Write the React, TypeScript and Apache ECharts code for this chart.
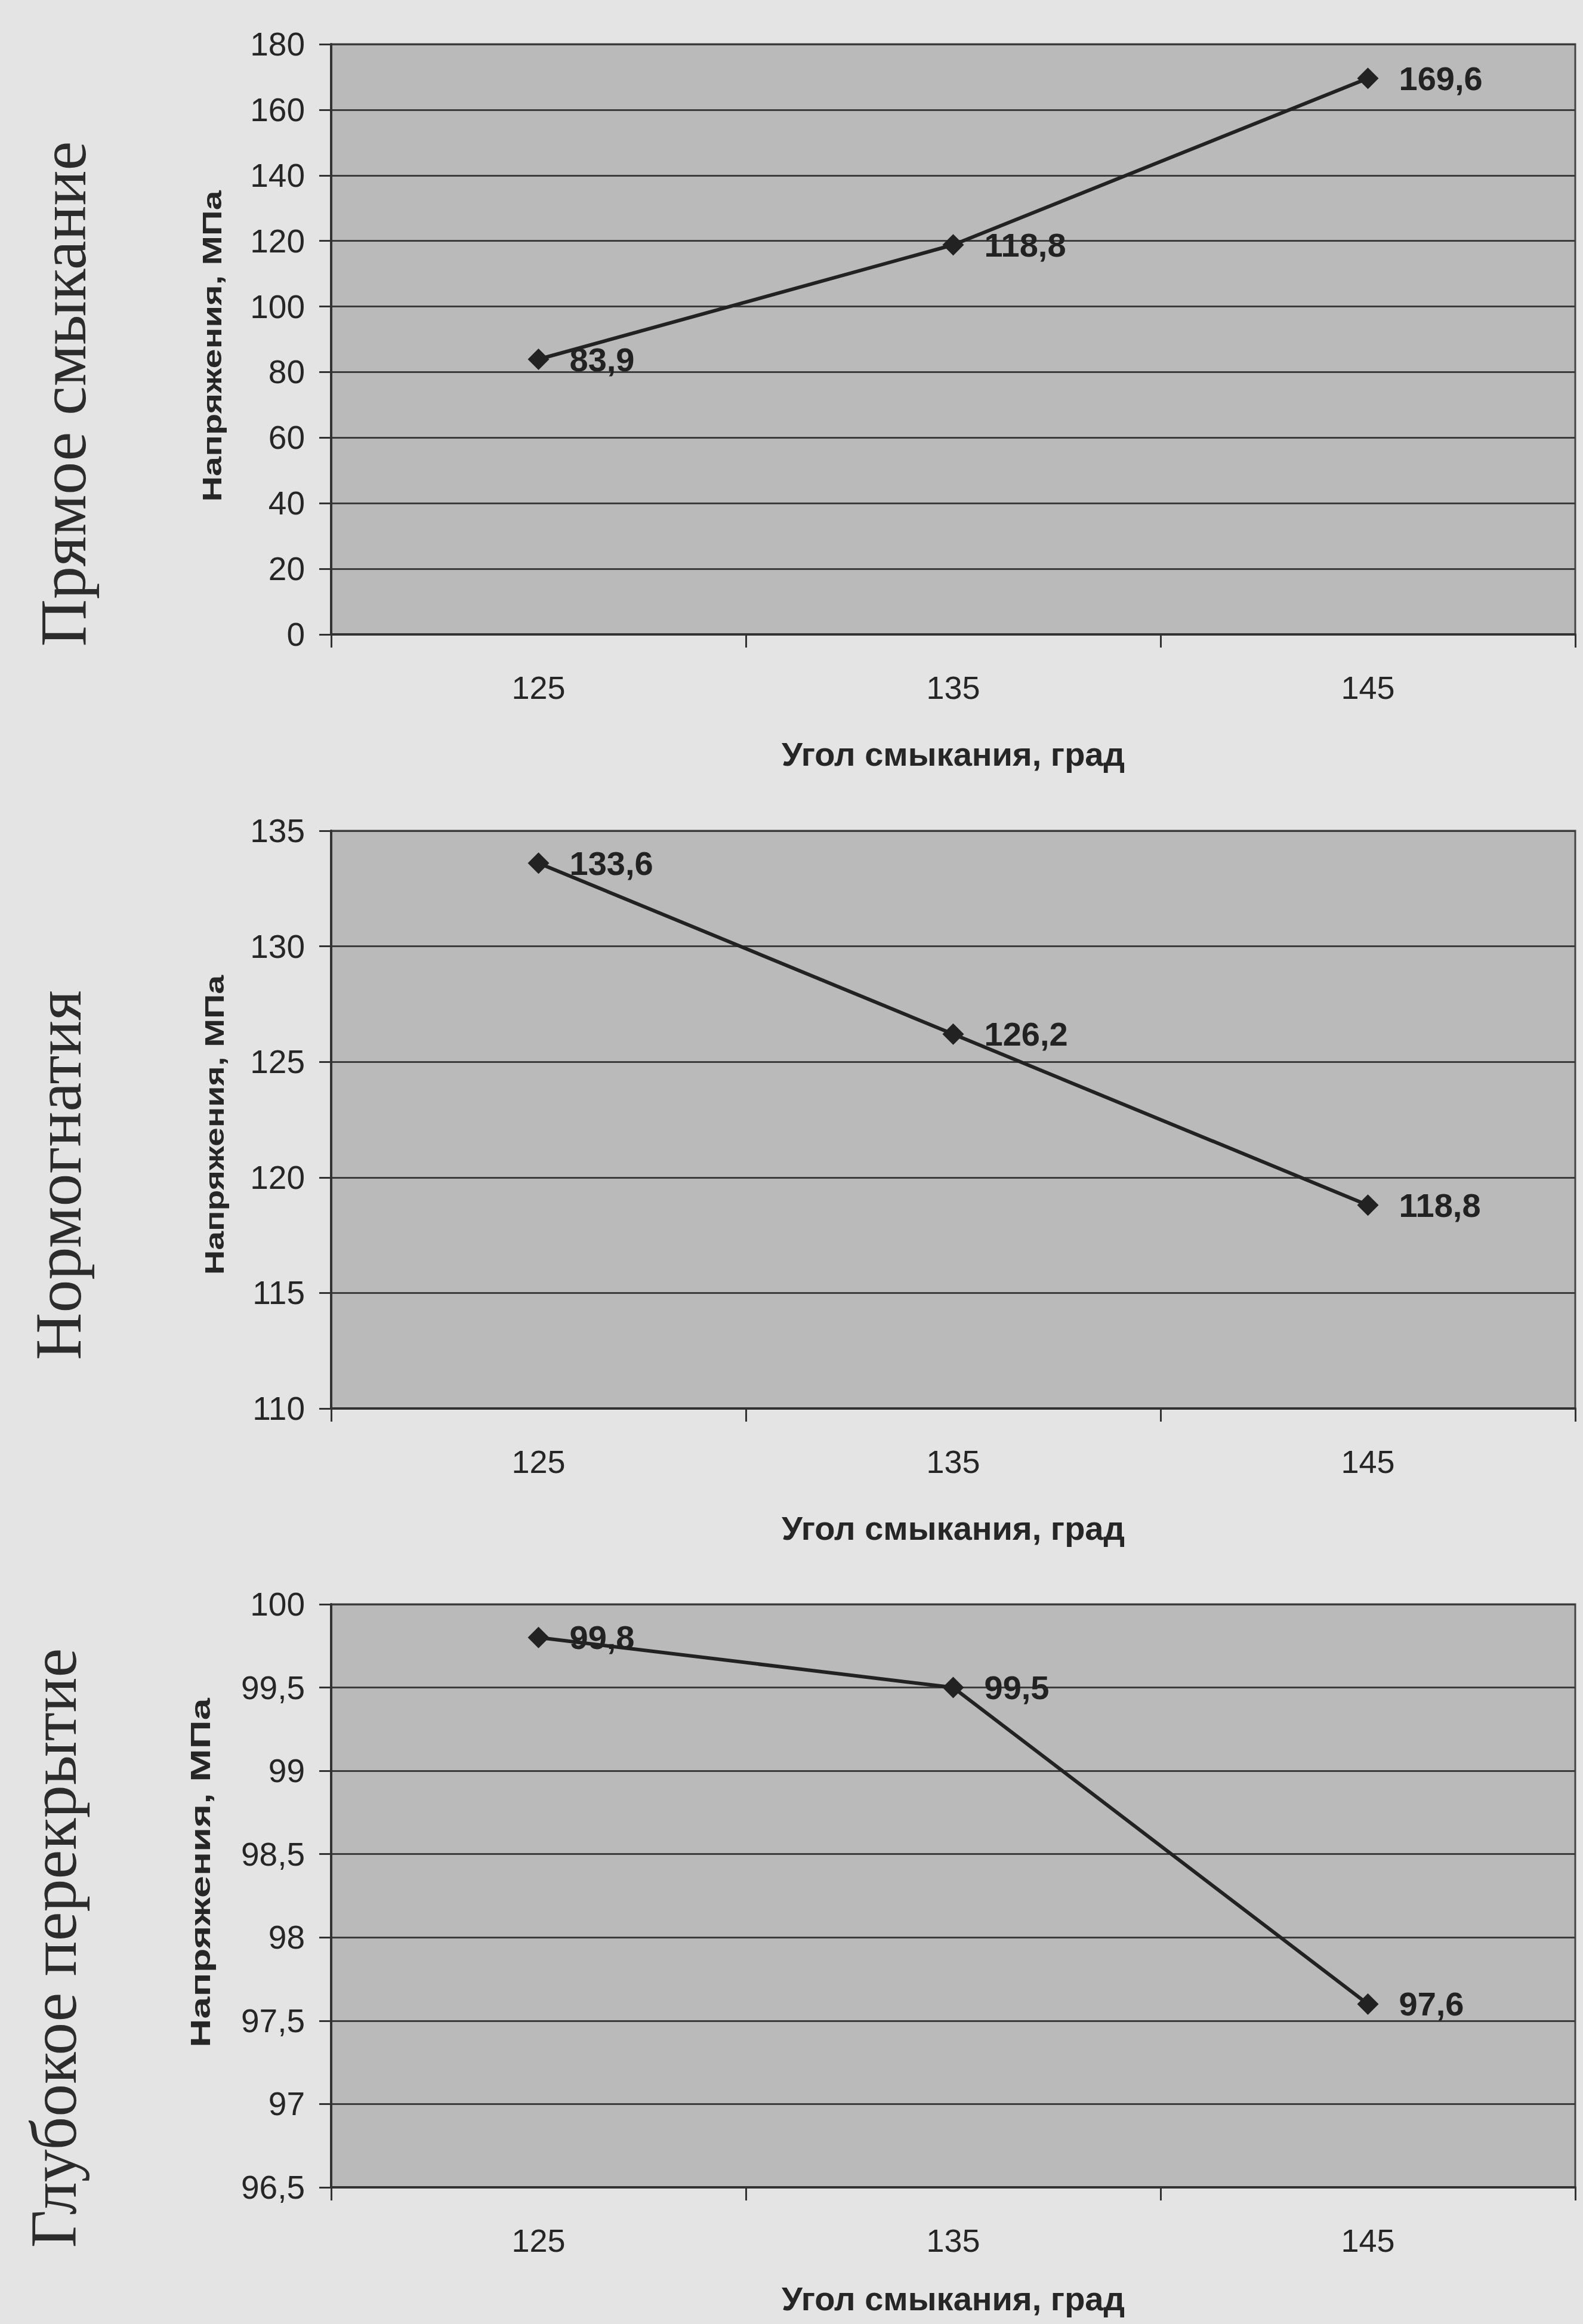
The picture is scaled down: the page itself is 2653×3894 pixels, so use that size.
import React, { useEffect, useRef } from "react";
import * as echarts from "echarts";

// ---- data ----
const categories = ["125", "135", "145"];
const valuesDirect = [83.9, 118.8, 169.6];
const valuesNormo = [133.6, 126.2, 118.8];
const valuesDeep = [99.8, 99.5, 97.6];
const panelTitles = ["Прямое смыкание", "Нормогнатия", "Глубокое перекрытие"];
const yMins = [0, 110, 96.5];
const yMaxs = [180, 135, 100];
const yIntervals = [20, 5, 0.5];
const yAxisTitle = "Напряжения, МПа";
const xAxisTitle = "Угол смыкания, град";

const W = 2653;
const H = 3894;

const grids = [
  { top: 74, height: 989, nameGap: 172 },
  { top: 1392, height: 968, nameGap: 172 },
  { top: 2688, height: 977, nameGap: 158 },
];
const GRID_LEFT = 555;
const GRID_WIDTH = 2085;

const titlePos = [
  { x: 106, y: 660 },
  { x: 98, y: 1969 },
  { x: 90, y: 3264 },
];
const yNamePos = [
  { x: 356, y: 580, size: 44, sx: 1.35 },
  { x: 360, y: 1885, size: 44, sx: 1.3 },
  { x: 336, y: 3138, size: 46, sx: 1.45 },
];

const comma = (v: number) => String(v).replace(".", ",");

export default function App() {
  const ref = useRef<HTMLDivElement>(null);

  useEffect(() => {
    document.body.style.margin = "0";
    if (!ref.current) return;
    const chart = echarts.init(ref.current, undefined, { renderer: "svg" });
    const allValues = [valuesDirect, valuesNormo, valuesDeep];
    const textColor = "#262626";
    const font = "'Liberation Sans', Arial, sans-serif";

    const option: any = {
      animation: false,
      backgroundColor: "#e4e4e4",
      grid: grids.map((g) => ({
        left: GRID_LEFT,
        width: GRID_WIDTH,
        top: g.top,
        height: g.height,
        show: true,
        backgroundColor: "#bababa",
        borderColor: "#444",
        borderWidth: 3,
        containLabel: false,
      })),
      xAxis: grids.map((g, i) => ({
        type: "category",
        gridIndex: i,
        data: categories,
        boundaryGap: true,
        name: xAxisTitle,
        nameLocation: "middle",
        nameGap: g.nameGap,
        nameTextStyle: {
          fontSize: 56,
          fontWeight: "bold",
          fontFamily: font,
          color: textColor,
        },
        axisLine: { show: true, lineStyle: { color: "#333", width: 4 } },
        axisTick: {
          show: true,
          alignWithLabel: false,
          length: 22,
          lineStyle: { color: "#333", width: 3 },
        },
        axisLabel: {
          margin: 62,
          fontSize: 54,
          fontFamily: font,
          color: textColor,
        },
        splitLine: { show: false },
      })),
      yAxis: grids.map((_, i) => ({
        type: "value",
        gridIndex: i,
        min: yMins[i],
        max: yMaxs[i],
        interval: yIntervals[i],
        axisLine: { show: true, lineStyle: { color: "#333", width: 4 } },
        axisTick: {
          show: true,
          length: 20,
          lineStyle: { color: "#333", width: 3 },
        },
        axisLabel: {
          margin: 44,
          fontSize: 55,
          fontFamily: font,
          color: textColor,
          formatter: (v: number) => comma(v),
        },
        splitLine: { show: true, lineStyle: { color: "#3c3c3c", width: 3 } },
      })),
      series: allValues.map((vals, i) => ({
        type: "line",
        xAxisIndex: i,
        yAxisIndex: i,
        data: vals,
        symbol: "diamond",
        symbolSize: 36,
        lineStyle: { color: "#222", width: 6 },
        itemStyle: { color: "#222" },
        label: {
          show: true,
          position: "right",
          distance: 34,
          fontSize: 56,
          fontWeight: "bold",
          fontFamily: font,
          color: "#222",
          formatter: (p: any) => Number(p.value).toFixed(1).replace(".", ","),
        },
      })),
      graphic: [
        ...panelTitles.map((t, i) => ({
          type: "text",
          x: titlePos[i].x,
          y: titlePos[i].y,
          rotation: Math.PI / 2,
          style: {
            text: t,
            fontSize: 110,
            fontFamily: "'Liberation Serif', 'DejaVu Serif', serif",
            fill: "#2c2c2c",
            align: "center",
            verticalAlign: "middle",
          },
        })),
        ...yNamePos.map((p) => ({
          type: "text",
          x: p.x,
          y: p.y,
          rotation: Math.PI / 2,
          scaleX: p.sx,
          style: {
            text: yAxisTitle,
            fontSize: p.size,
            fontWeight: "bold",
            fontFamily: font,
            fill: textColor,
            align: "center",
            verticalAlign: "middle",
          },
        })),
      ],
    };
    chart.setOption(option);
    return () => chart.dispose();
  }, []);

  return (
    <div
      ref={ref}
      style={{ position: "absolute", left: 0, top: 0, width: W, height: H }}
    />
  );
}
